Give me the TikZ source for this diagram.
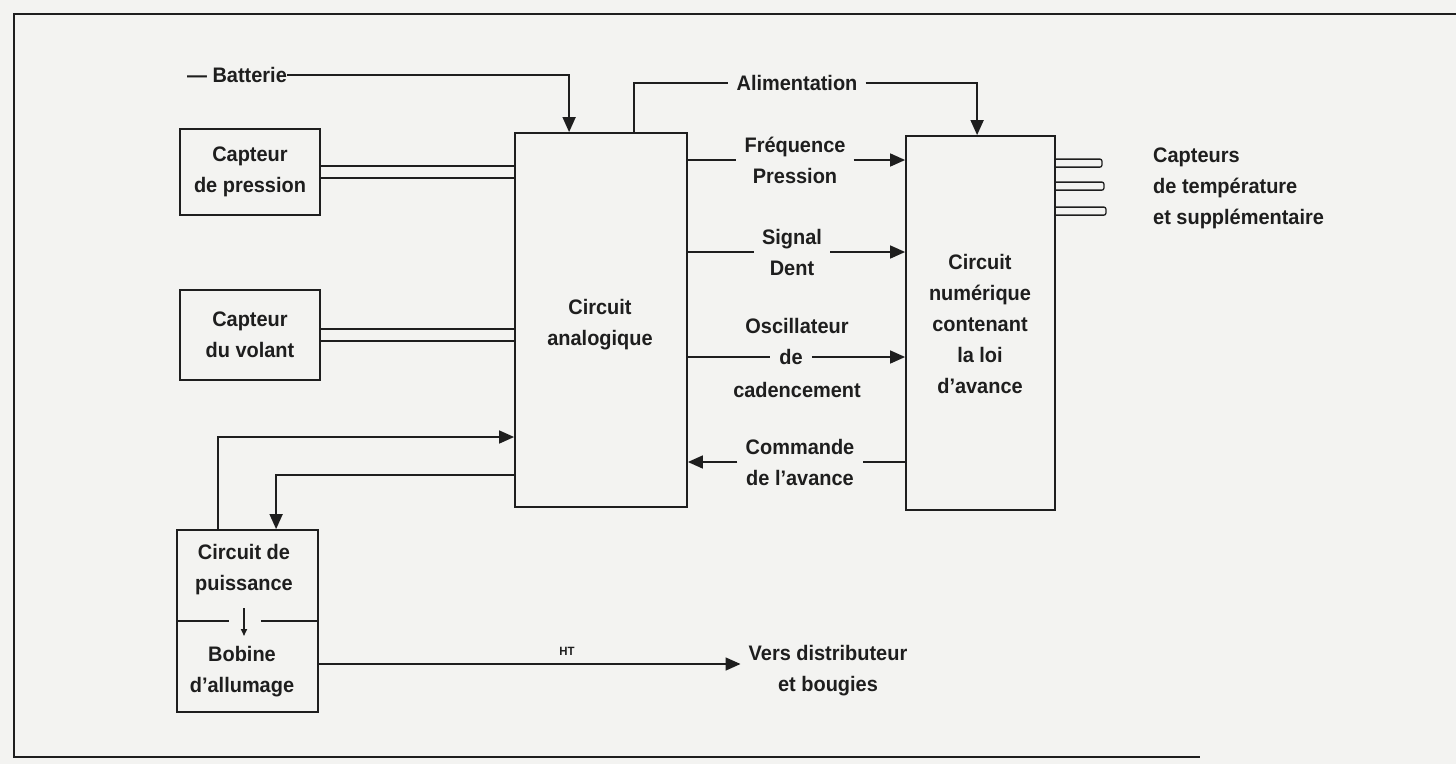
\documentclass[tikz,border=0pt]{standalone}
\usepackage{fontspec}
\setmainfont[FakeStretch=0.95]{Liberation Sans}
\usetikzlibrary{arrows.meta,calc}
\definecolor{ink}{HTML}{1E1E1E}
\definecolor{paper}{HTML}{F3F3F1}
\begin{document}
\begin{tikzpicture}[x=1pt,y=-1pt,
  every node/.style={font=\bfseries\fontsize{21}{31}\selectfont, text=ink, align=center, inner sep=0pt},
  boxn/.style={draw=ink, line width=1.8pt},
  ln/.style={draw=ink, line width=1.6pt},
  arr/.style={ln, -{Triangle[length=15pt,width=13pt]}},
  lab/.style={inner xsep=8pt}]
\useasboundingbox (0,0) rectangle (1456,764);
\fill[paper] (0,0) rectangle (1456,764);
% frame
\draw[ink, line width=2.2pt] (1456,14) -- (14,14) -- (14,757) -- (1200,757);

% boxes
\node[boxn, minimum width=140pt, minimum height=86pt] (pres) at (250,172) {Capteur\\de pression};
\node[boxn, minimum width=140pt, minimum height=90pt] (vol) at (250,335) {Capteur\\du volant};
\node[boxn, minimum width=172pt, minimum height=374pt] (ana) at (601,320) {};
\node (anat) at (600,325) {Circuit\\analogique};
\node[boxn, minimum width=149pt, minimum height=374pt] (num) at (980.5,323) {};
\node (numt) at (980,323.5) {Circuit\\numérique\\contenant\\la loi\\d'avance};
\node[boxn, minimum width=141pt, minimum height=182pt] (pui) at (247.5,621) {};
\node (puit) at (244,569.5) {Circuit de\\puissance};
\node (bobt) at (242,672) {Bobine\\d'allumage};
% divider with gap and small arrow
\draw[ln] (pui.west) -- ($(pui.west)+(53,0)$);
\draw[ln] ($(pui.east)+(-58,0)$) -- (pui.east);
\draw[ln, -{Triangle[length=7pt,width=6pt]}] ($(pui.center)+(-3.5,-13)$) -- ($(pui.center)+(-3.5,15)$);

% Batterie
\node (bat) at (237,75) {— Batterie};
\draw[arr] (bat.east) -| ($(ana.north west)+(55,0)$);

% Alimentation
\node[lab] (ali) at (797,83) {Alimentation};
\draw[ln] ($(ana.north west)+(120,0)$) |- (ali.west);
\draw[arr] (ali.east) -| ($(num.north west)+(72,0)$);

% capteur links (double lines)
\draw[ln] ($(pres.east)+(0,-6)$) -- ($(pres.east)+(195,-6)$);
\draw[ln] ($(pres.east)+(0,6)$) -- ($(pres.east)+(195,6)$);
\draw[ln] ($(vol.east)+(0,-6)$) -- ($(vol.east)+(195,-6)$);
\draw[ln] ($(vol.east)+(0,6)$) -- ($(vol.east)+(195,6)$);

% Frequence Pression
\node[lab] (frq) at (795,160) {Fréquence\\Pression};
\draw[ln] (ana.east |- frq.west) -- (frq.west);
\draw[arr] (frq.east) -- (num.west |- frq.east);

% Signal Dent
\node[lab] (sig) at (792,252) {Signal\\Dent};
\draw[ln] (ana.east |- sig.west) -- (sig.west);
\draw[arr] (sig.east) -- (num.west |- sig.east);

% Oscillateur
\node (osc1) at (797,326) {Oscillateur};
\node[inner xsep=9pt] (osc) at (791,357) {de};
\node (osc3) at (797,390) {cadencement};
\draw[ln] (ana.east |- osc.west) -- (osc.west);
\draw[arr] (osc.east) -- (num.west |- osc.east);

% Commande
\node[lab] (cmd) at (800,462) {Commande\\de l'avance};
\draw[ln] (num.west |- cmd.east) -- (cmd.east);
\draw[arr] (cmd.west) -- (ana.east |- cmd.west);

% puissance <-> analogique
\draw[arr] ($(pui.north west)+(42,0)$) |- ($(ana.west)+(0,117)$);
\draw[arr] ($(ana.west)+(0,155)$) -| ($(pui.north west)+(100,0)$);

% Capteurs de temperature
\foreach \dy/\len in {24/46, 47/48, 72/50}{
  \draw[ink, line width=1.3pt, rounded corners=2pt] ($(num.north east)+(0,\dy)$) -- ++(\len,0) -- ++(0,8) -- ++(-\len,0);
}
\node[anchor=west, align=left] (cap) at (1153,188) {Capteurs\\de température\\et supplémentaire};

% HT
\node[lab] (vers) at (828,671) {Vers distributeur\\et bougies};
\coordinate (bobo) at ($(pui.east)+(0,43)$);
\draw[arr] (bobo) -- (bobo -| vers.west);
\node[font=\bfseries\fontsize{12}{14}\selectfont] (ht) at (567,651) {HT};
\end{tikzpicture}
\end{document}
